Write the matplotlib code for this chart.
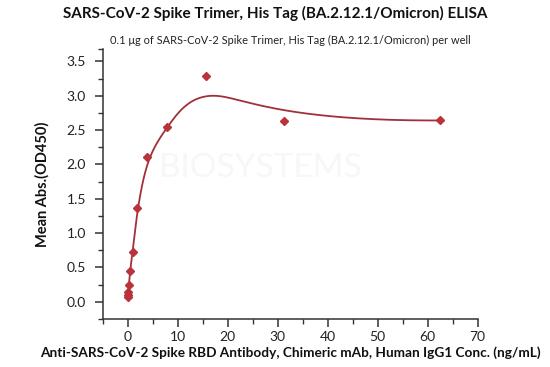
import matplotlib
matplotlib.use("Agg")
import matplotlib.pyplot as plt
import numpy as np

plt.rcParams['font.family'] = ['Lato', 'DejaVu Sans']

# antibody conc. (ng/mL) and OD450
conc = [0.03, 0.06, 0.12, 0.24, 0.49, 0.98, 1.95, 3.91, 7.81, 15.63, 31.25, 62.5]
od450 = [0.07, 0.10, 0.14, 0.25, 0.45, 0.73, 1.36, 2.11, 2.545, 3.28, 2.63, 2.64]

title = 'SARS-CoV-2 Spike Trimer, His Tag (BA.2.12.1/Omicron) ELISA'
subtitle = '0.1 \u03bcg of SARS-CoV-2 Spike Trimer, His Tag (BA.2.12.1/Omicron) per well'
xlabel = 'Anti-SARS-CoV-2 Spike RBD Antibody, Chimeric mAb, Human IgG1 Conc. (ng/mL)'
ylabel = 'Mean Abs.(OD450)'


def bspline(px, py, deg=3, num=400):
    # clamped B-spline using the data points as control points
    n = len(px)
    inner = np.arange(1, n - deg)
    knots = np.concatenate([np.zeros(deg + 1), inner, np.full(deg + 1, n - deg)])
    ts = np.linspace(0, n - deg - 1e-9, num)
    P = np.column_stack([px, py])
    out = []
    for t in ts:
        # basis functions via Cox-de Boor
        N = np.array([1.0 if knots[i] <= t < knots[i + 1] else 0.0 for i in range(len(knots) - 1)])
        for k in range(1, deg + 1):
            Nn = np.zeros(len(knots) - 1 - k)
            for i in range(len(Nn)):
                a = 0.0
                if knots[i + k] != knots[i]:
                    a = (t - knots[i]) / (knots[i + k] - knots[i]) * N[i]
                b = 0.0
                if knots[i + k + 1] != knots[i + 1]:
                    b = (knots[i + k + 1] - t) / (knots[i + k + 1] - knots[i + 1]) * N[i + 1]
                Nn[i] = a + b
            N = Nn
        out.append(N[:n] @ P)
    out = np.array(out)
    return out[:, 0], out[:, 1]


fig = plt.figure(figsize=(5.5, 3.67), dpi=100)
ax = fig.add_axes([0.1867, 0.1308, 0.6818, 0.7357])

# faint watermark
ax.text(0.42, 0.56, 'BIOSYSTEMS', fontsize=24, color='#f7f7f7', ha='center',
        va='center', transform=ax.transAxes, zorder=0)

cx, cy = bspline(conc, od450)
ax.plot(cx, cy, color='#a0303a', lw=1.3, zorder=2)
ax.plot(conc, od450, linestyle='none', marker='D', markersize=4.5,
        color='#b8343a', zorder=3)

ax.set_xlim(-5, 70)
ax.set_ylim(-0.25, 3.68)
ax.set_xticks(np.arange(0, 71, 10))
ax.set_xticks(np.arange(-5, 71, 5), minor=True)
ax.set_yticks(np.arange(0, 3.6, 0.5))
ax.set_yticks(list(np.arange(-0.25, 3.6, 0.25)) + [3.68], minor=True)
ax.set_yticklabels([f'{v:.1f}' for v in np.arange(0, 3.6, 0.5)])

for s in ['top', 'right']:
    ax.spines[s].set_visible(False)
for s in ['left', 'bottom']:
    ax.spines[s].set_color('#333333')
    ax.spines[s].set_linewidth(1.1)
ax.tick_params(which='major', length=6, width=1.1, color='#333333',
               labelsize=10, labelcolor='#222222')
ax.tick_params(axis='y', which='major', pad=6)
ax.tick_params(axis='x', which='major', pad=3)
ax.tick_params(which='minor', length=3.5, width=1.0, color='#333333')

fig.text(0.5, 0.962, title, ha='center', va='center', fontsize=11,
         fontweight='bold', color='#111111')
ax.text(0.02, 1.012, subtitle, transform=ax.transAxes, ha='left', va='bottom',
        fontsize=7.9, color='#222222')
ax.set_xlabel(xlabel, fontsize=9.8, fontweight='bold', color='#111111', labelpad=2)
ax.set_ylabel(ylabel, fontsize=10.5, fontweight='bold', color='#111111', labelpad=12)

plt.savefig('out.png', dpi=100)
